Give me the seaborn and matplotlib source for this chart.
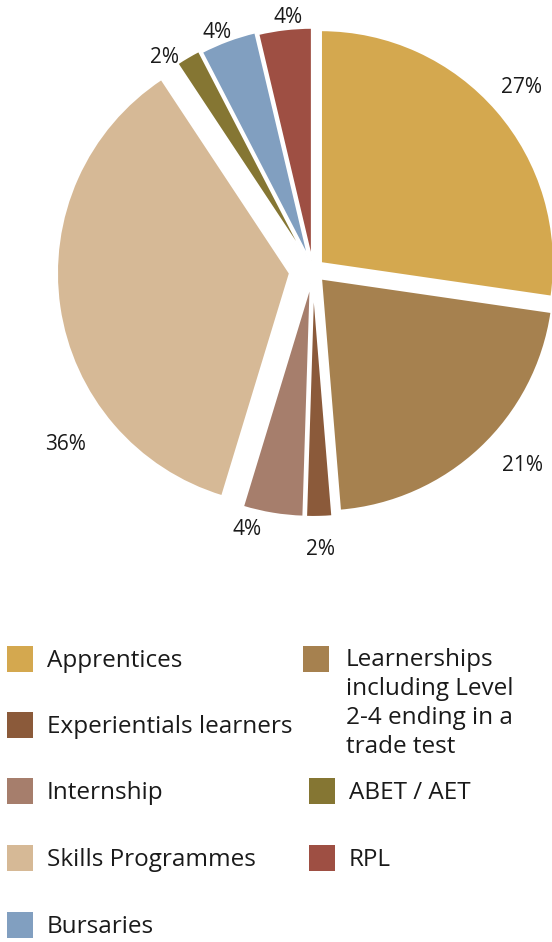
import matplotlib
matplotlib.use("Agg")
import matplotlib.pyplot as plt
from matplotlib.patches import Rectangle
import seaborn as sns
import numpy as np

# share of beneficiaries per programme type (%)
categories = [
    "Apprentices",
    "Learnerships\nincluding Level\n2-4 ending in a\ntrade test",
    "Experientials learners",
    "Internship",
    "Skills Programmes",
    "ABET / AET",
    "Bursaries",
    "RPL",
]
shares = [27.3, 21.4, 1.8, 4.2, 36.0, 1.7, 3.9, 3.7]
colors = ["#D4A84F", "#A6814F", "#8B5A3A", "#A67E6C",
          "#D6B996", "#857633", "#819FC0", "#9E4F43"]

# layout (pixels of the 552x942 canvas)
W, H = 552, 942
CX, CY, R = 313, 270, 233
explode = [0.045, 0.05, 0.06, 0.06, 0.1, 0.06, 0.05, 0.04]
pct_radius = [1.19, 1.23, 1.2, 1.15, 1.3, 1.11, 1.1, 1.09]
pct_turn = [0.3, 3.9, 0, -4.8, 27, 4.5, 1.7, -1]
legend_pos = [(7, 659), (303, 659), (7, 725), (7, 791),
              (7, 858), (309, 791), (7, 925), (309, 858)]
legend_text_x = [47, 346, 47, 47, 47, 349, 47, 349]

sns.set_theme(style="white")
plt.rcParams["font.family"] = ["Open Sans", "DejaVu Sans"]

fig = plt.figure(figsize=(W / 100, H / 100), dpi=100)
ax = fig.add_axes([0, 0, 1, 1])

wedges, texts, autotexts = ax.pie(
    shares,
    colors=colors,
    startangle=90,
    counterclock=False,
    explode=explode,
    autopct="%1.0f%%",
    wedgeprops=dict(edgecolor="white", linewidth=1.5),
    textprops=dict(fontsize=15, color="#1a1a1a"),
)

for w, t, rr, turn in zip(wedges, autotexts, pct_radius, pct_turn):
    ang = np.deg2rad((w.theta1 + w.theta2) / 2 + turn)
    t.set_position((rr * np.cos(ang), rr * np.sin(ang)))
    t.set_ha("center")
    t.set_va("center")

ax.set_xlim(-CX / R, (W - CX) / R)
ax.set_ylim(-(H - CY) / R, CY / R)
ax.axis("off")

# legend, two loose columns
sq = 26
for lab, col, (lx, ly), tx in zip(categories, colors, legend_pos, legend_text_x):
    fig.add_artist(Rectangle((lx / W, 1 - (ly + sq / 2) / H), sq / W, sq / H,
                             transform=fig.transFigure, facecolor=col,
                             edgecolor="none"))
    if "\n" in lab:
        fig.text(tx / W, 1 - (ly - 11) / H, lab, fontsize=17.5, va="top",
                 ha="left", color="#1a1a1a", linespacing=1.27)
    else:
        fig.text(tx / W, 1 - (ly + 2) / H, lab, fontsize=17.5, va="center",
                 ha="left", color="#1a1a1a")

fig.savefig("out.png", dpi=100)
